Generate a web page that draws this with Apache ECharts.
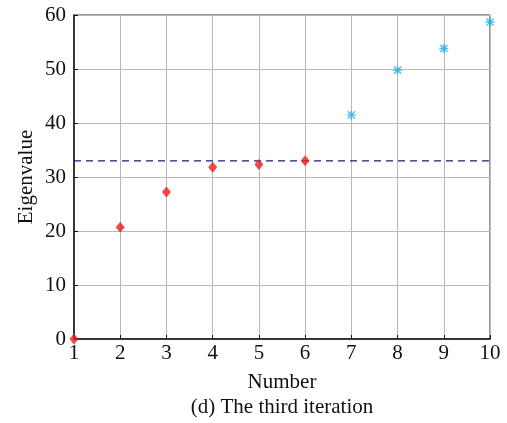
<!DOCTYPE html>
<html>
<head>
<meta charset="utf-8">
<script src="https://cdn.jsdelivr.net/npm/echarts@6/dist/echarts.min.js"></script>
<style>
html,body{margin:0;padding:0;background:#fff;}
#c{width:507px;height:423px;}
</style>
</head>
<body>
<div id="c"></div>
<script>
const redX = [1, 2, 3, 4, 5, 6];
const redY = [0, 20.7, 27.2, 31.8, 32.3, 33.0];
const cyanX = [7, 8, 9, 10];
const cyanY = [41.5, 49.8, 53.8, 58.7];
const thresholdValue = 33;
const xTicks = [1, 2, 3, 4, 5, 6, 7, 8, 9, 10];
const yTicks = [0, 10, 20, 30, 40, 50, 60];
const xLabel = 'Number';
const yLabel = 'Eigenvalue';
const caption = '(d) The third iteration';

const FONT = 'Liberation Serif';
const FS = 21;
const asterisk = 'path://M0 8.5H20V11.5H0Z M8.5 0H11.5V20H8.5Z M3.1 1L19 16.9L16.9 19L1 3.1Z M16.9 1L19 3.1L3.1 19L1 16.9Z';

const chart = echarts.init(document.getElementById('c'), null, {renderer: 'canvas'});
chart.setOption({
  animation: false,
  backgroundColor: '#fff',
  graphic: [{
    type: 'text',
    x: 282,
    y: 407,
    style: {
      text: caption,
      fontFamily: FONT, fontSize: FS, fill: '#111',
      align: 'center', verticalAlign: 'middle'
    }
  }],
  grid: {left: 74, right: 17, top: 15, bottom: 84, show: true, borderColor: '#333', borderWidth: 1},
  xAxis: {
    type: 'value', min: xTicks[0], max: xTicks[xTicks.length - 1], interval: 1,
    name: xLabel, nameLocation: 'middle', nameGap: 33, nameMoveOverlap: false,
    nameTextStyle: {fontFamily: FONT, fontSize: FS, color: '#111'},
    axisLine: {onZero: false, lineStyle: {color: '#111', width: 1.5}},
    axisTick: {inside: true, length: 4, lineStyle: {color: '#111'}},
    axisLabel: {fontFamily: FONT, fontSize: FS, color: '#111', margin: 4},
    splitLine: {show: true, lineStyle: {color: '#b8b8b8', width: 1}}
  },
  yAxis: {
    type: 'value', min: yTicks[0], max: yTicks[yTicks.length - 1], interval: 10,
    name: yLabel, nameLocation: 'middle', nameGap: 37, nameRotate: 90, nameMoveOverlap: false,
    nameTextStyle: {fontFamily: FONT, fontSize: FS, color: '#111'},
    axisLine: {show: true, onZero: false, lineStyle: {color: '#111', width: 1.5}},
    axisTick: {show: true, inside: true, length: 4, lineStyle: {color: '#111'}},
    axisLabel: {fontFamily: FONT, fontSize: FS, color: '#111', margin: 8},
    splitLine: {show: true, lineStyle: {color: '#b8b8b8', width: 1}}
  },
  series: [
    {
      type: 'line',
      data: [[xTicks[0], thresholdValue], [xTicks[xTicks.length - 1], thresholdValue]],
      symbol: 'none',
      lineStyle: {color: '#1c1c70', width: 1.2, type: [7, 5]},
      z: 3
    },
    {
      type: 'scatter',
      data: redX.map((x, i) => [x, redY[i]]),
      symbol: 'diamond',
      symbolSize: [9, 11],
      itemStyle: {color: '#f01c1c'},
      z: 5
    },
    {
      type: 'scatter',
      data: cyanX.map((x, i) => [x, cyanY[i]]),
      symbol: asterisk,
      symbolSize: 9,
      itemStyle: {color: '#1ab0e6'},
      z: 5
    }
  ]
});
</script>
</body>
</html>
